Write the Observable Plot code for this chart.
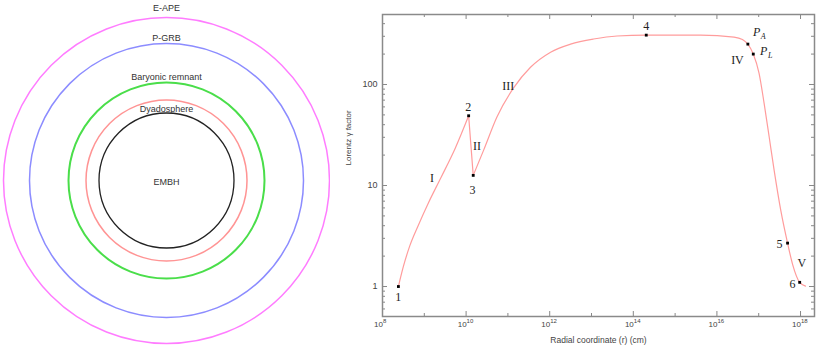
<!DOCTYPE html>
<html><head><meta charset="utf-8">
<script src="https://cdn.jsdelivr.net/npm/d3@7"></script>
<script src="https://cdn.jsdelivr.net/npm/@observablehq/plot@0.6"></script>
<style>
body{margin:0;background:#fff;}
#wrap{display:flex;width:830px;height:349px;}
#wrap svg{display:block;}
</style></head><body><div id="wrap"></div>
<script>
// ---- left panel data ----
const shellNames = ["EMBH", "Dyadosphere", "Baryonic remnant", "P-GRB", "E-APE"];
const shellRadii = [67.5, 80.5, 98, 137, 163];

// ---- right panel data: Lorentz gamma factor vs radial coordinate (cm) ----
const radius = [2.4e8, 3.16e8, 4.47e8, 7.08e8, 1.26e9, 2.51e9, 5.5e9, 1.15e10,
  1.48e10, 2.63e10, 5.5e10, 1.38e11, 3.47e11, 1.05e12, 3.16e12, 1.12e13, 4.07e13, 2.04e14,
  4.07e15, 2.57e16, 4.07e16, 5.5e16, 7.41e16, 1.02e17, 1.35e17, 1.78e17, 2.34e17, 3.39e17,
  4.9e17, 6.46e17, 9.55e17, 1.32e18];
const gamma = [1, 1.58, 2.51, 3.98, 6.76, 12.0, 23.4, 49,
  12.6, 22.4, 47.9, 93, 148, 209, 251, 282, 302, 308,
  308, 295, 279, 251, 200, 129, 64.6, 30.2, 14.1, 5.6,
  2.69, 1.66, 1.10, 1.01];
const markerR = [2.4e8, 1.15e10, 1.48e10, 2.04e14, 5.5e16, 7.41e16, 4.9e17, 9.55e17];
const markerG = [1, 49, 12.6, 308, 251, 200, 2.69, 1.10];
const labelText = ["1", "I", "2", "II", "3", "III", "4", "IV", "5", "V", "6"];
const labelR = [2.38e8, 1.52e9, 1.12e10, 1.82e10, 1.43e10, 1.02e11, 2.04e14, 3.1e16, 3.16e17, 1.07e18, 6.4e17];
const labelG = [0.78, 11.7, 59.2, 24.5, 8.9, 96.2, 375, 173, 2.6, 1.7, 1.06];
const pMain = ["P", "P"];
const pSub = ["A", "L"];
const pR = [8.9e16, 1.31e17];
const pG = [330, 213];
const xTicks = [1e8, 1e10, 1e12, 1e14, 1e16, 1e18];
const xMinor = [1e9, 1e11, 1e13, 1e15, 1e17];
const yTicks = [1, 10, 100];
const xTitle = "Radial coordinate (r) (cm)";
const yTitle = "Lorentz γ factor";

// ---- left panel ----
const shells = shellNames.map((name, i) => ({name, r: shellRadii[i]}));
const lab = (name, dy) => Plot.text(shells.filter(d => d.name === name), {
  x: () => 0, y: d => name === "EMBH" ? 0 : d.r, text: "name", dy, fontSize: 9, fill: "#333"
});
const left = Plot.plot({
  width: 330, height: 349, margin: 0,
  style: {fontFamily: "'Liberation Sans', Arial, sans-serif", background: "white", overflow: "visible"},
  x: {domain: [-166, 164], axis: null},
  y: {domain: [-169, 180], axis: null},
  r: {type: "linear", domain: [0, 200], range: [0, 200]},
  color: {domain: shellNames, range: ["#222222", "#ff9494", "#4ade4a", "#8c8cff", "#ff7cff"]},
  marks: [
    Plot.dot(shells, {x: () => 0, y: () => 0, r: "r", stroke: "name", fill: "none",
      strokeWidth: d => d.name === "Baryonic remnant" ? 2 : (d.name === "EMBH" ? 1.3 : 1.5)}),
    lab("E-APE", -9), lab("P-GRB", -5), lab("Baryonic remnant", -5), lab("Dyadosphere", 9.5), lab("EMBH", 2)
  ]
});

// ---- right panel ----
const W = 500, H = 349, mL = 52, mR = 16, mT = 14, mB = 33;
const pw = W - mL - mR, ph = H - mT - mB;
const curve = radius.map((r, i) => ({r, g: gamma[i], i}));
const markers = markerR.map((r, i) => ({r, g: markerG[i]}));
const labels = labelText.map((t, i) => ({t, r: labelR[i], g: labelG[i]}));
const plabs = pMain.map((t, i) => ({t, s: pSub[i], r: pR[i], g: pG[i]}));
const yMinor = [];
[0.1, 1, 10, 100].forEach(b => [2,3,4,5,6,7,8,9].forEach(k => { const v = b * k; if (v >= 0.505 && v <= 493) yMinor.push(v); }));
const tickStroke = "#888";
const lineColor = "#ff9c9c";
const right = Plot.plot({
  width: W, height: H, marginLeft: mL, marginRight: mR, marginTop: mT, marginBottom: mB,
  style: {fontFamily: "'Liberation Sans', Arial, sans-serif", background: "white", overflow: "visible"},
  x: {type: "log", domain: [1e8, 2.16e18], axis: null},
  y: {type: "log", domain: [0.505, 493]},
  marks: [
    // inward ticks on all four sides
    Plot.tickY(yTicks, {y: d => d, insetRight: pw - 5, stroke: tickStroke}),
    Plot.tickY(yTicks, {y: d => d, insetLeft: pw - 5, stroke: tickStroke}),
    Plot.tickY(yMinor, {y: d => d, insetRight: pw - 3, stroke: tickStroke}),
    Plot.tickY(yMinor, {y: d => d, insetLeft: pw - 3, stroke: tickStroke}),
    Plot.tickX(xTicks, {x: d => d, insetTop: ph - 5, stroke: tickStroke}),
    Plot.tickX(xTicks, {x: d => d, insetBottom: ph - 5, stroke: tickStroke}),
    Plot.tickX(xMinor, {x: d => d, insetTop: ph - 3, stroke: tickStroke}),
    Plot.tickX(xMinor, {x: d => d, insetBottom: ph - 3, stroke: tickStroke}),
    Plot.frame({stroke: "#8a8a8a", strokeWidth: 1.5}),
    // x tick labels: "10" with a raised exponent
    Plot.text(xTicks, {x: d => d, frameAnchor: "bottom", text: () => "10", textAnchor: "end", dx: 0.5, dy: 10, fontSize: 8, fill: "#444"}),
    Plot.text(xTicks, {x: d => d, frameAnchor: "bottom", text: d => String(Math.round(Math.log10(d))), textAnchor: "start", dx: 0.5, dy: 6.5, fontSize: 6, fill: "#444"}),
    Plot.axisY({ticks: yTicks, tickFormat: d => String(d), tickSize: 0, tickPadding: 5, fontSize: 9, fill: "#444", label: null}),
    Plot.text([xTitle], {frameAnchor: "bottom", dy: 26, fontSize: 8.5, fill: "#444"}),
    Plot.text([yTitle], {frameAnchor: "left", dx: -34, rotate: -90, fontSize: 8, fill: "#444"}),
    // curve in three pieces (sharp corners at points 2 and 3)
    Plot.line(curve.filter(d => d.i <= 7), {x: "r", y: "g", curve: "monotone-x", stroke: lineColor, strokeWidth: 1.2}),
    Plot.line(curve.filter(d => d.i >= 7 && d.i <= 8), {x: "r", y: "g", stroke: lineColor, strokeWidth: 1.2}),
    Plot.line(curve.filter(d => d.i >= 8), {x: "r", y: "g", curve: "monotone-x", stroke: lineColor, strokeWidth: 1.2}),
    Plot.dot(markers, {x: "r", y: "g", symbol: "square", r: 1.6, fill: "black"}),
    Plot.text(labels, {x: "r", y: "g", text: "t", fontFamily: "'Liberation Serif', 'Times New Roman', serif", fontSize: 12, fill: "#222"}),
    Plot.text(plabs, {x: "r", y: "g", text: "t", fontFamily: "'Liberation Serif', serif", fontStyle: "italic", fontSize: 12, fill: "#222"}),
    Plot.text(plabs, {x: "r", y: "g", text: "s", dx: 6.5, dy: 4, fontFamily: "'Liberation Serif', serif", fontStyle: "italic", fontSize: 8, fill: "#222"})
  ]
});
const wrap = document.getElementById("wrap");
wrap.appendChild(left);
wrap.appendChild(right);
</script></body></html>
